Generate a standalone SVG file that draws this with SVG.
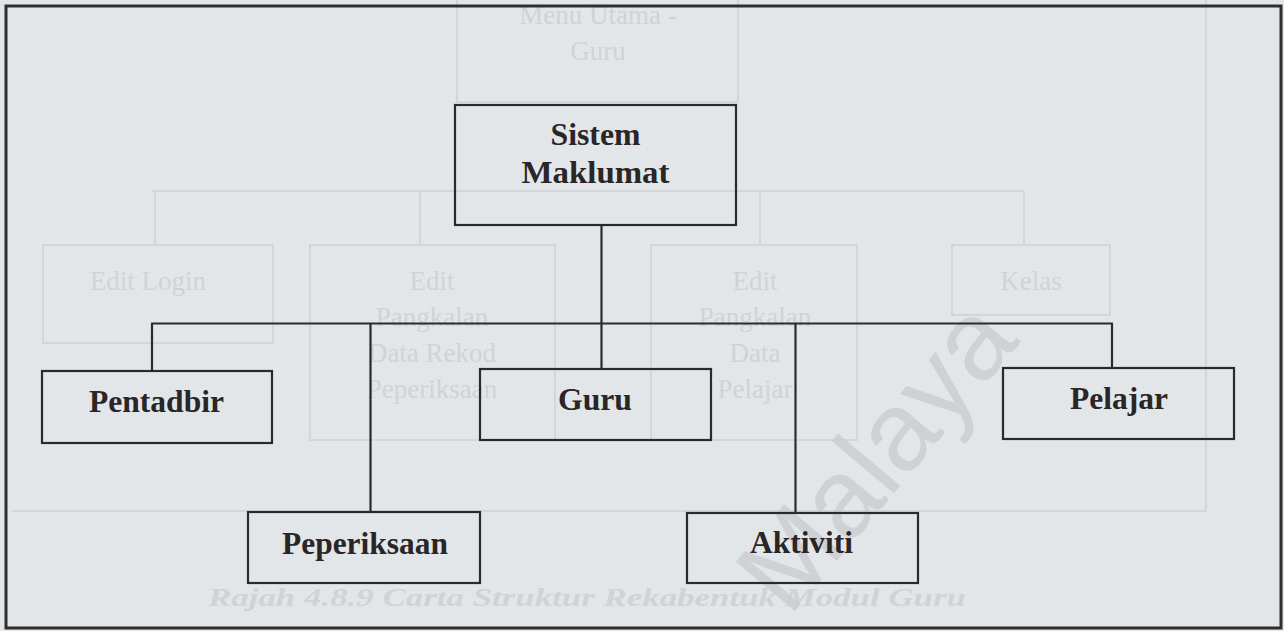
<svg xmlns="http://www.w3.org/2000/svg" width="1284" height="631" viewBox="0 0 1284 631">
  <style>
    .node rect { fill: none; stroke: #2a2a2c; stroke-width: 2.2; }
    .node text { font-family: "Liberation Serif", "Times New Roman", serif; font-weight: bold; font-size: 32px; fill: #2a2527; text-anchor: middle; }
    .links line { stroke: #2a2a2c; stroke-width: 2.2; }
    .ghost rect, .ghost line, .ghost polyline { fill: none; stroke: #d3d6d9; stroke-width: 2; }
    .ghost text { font-family: "Liberation Serif", "Times New Roman", serif; font-size: 27px; fill: #d0d3d6; text-anchor: middle; }
    .ghost .cap { font-style: italic; font-weight: bold; font-size: 25px; text-anchor: start; }
    .mark { font-family: "Liberation Sans", Arial, sans-serif; font-size: 112px; fill: #c9cccf; fill-opacity: 0.8; text-anchor: middle; }
  </style>

  <!-- page -->
  <rect x="0" y="0" width="1284" height="631" fill="#e3e6e8"/>

  <!-- faint show-through from the reverse side of the sheet -->
  <g id="show-through" class="ghost">
    <rect x="457" y="-4" width="281" height="106"/>
    <text x="598" y="24">Menu Utama -</text>
    <text x="598" y="60">Guru</text>
    <line x1="152" y1="191" x2="1024" y2="191"/>
    <line x1="155" y1="191" x2="155" y2="245"/>
    <line x1="420" y1="191" x2="420" y2="245"/>
    <line x1="760" y1="191" x2="760" y2="245"/>
    <line x1="1024" y1="191" x2="1024" y2="245"/>
    <rect x="43" y="245" width="230" height="98"/>
    <text x="148" y="290">Edit Login</text>
    <rect x="310" y="245" width="245" height="195"/>
    <text x="432" y="290">Edit</text>
    <text x="432" y="326">Pangkalan</text>
    <text x="432" y="362">Data Rekod</text>
    <text x="432" y="398">Peperiksaan</text>
    <rect x="651" y="245" width="206" height="195"/>
    <text x="755" y="290">Edit</text>
    <text x="755" y="326">Pangkalan</text>
    <text x="755" y="362">Data</text>
    <text x="755" y="398">Pelajar</text>
    <rect x="952" y="245" width="158" height="70"/>
    <text x="1031" y="290">Kelas</text>
    <polyline points="12,511 1206,511 1206,0"/>
    <text class="cap" x="208" y="606" textLength="758" lengthAdjust="spacingAndGlyphs">Rajah 4.8.9    Carta Struktur Rekabentuk Modul Guru</text>
  </g>

  <text class="mark" transform="translate(905,480) rotate(-50)">Malaya</text>

  <!-- frame -->
  <rect x="6" y="6" width="1275" height="622" fill="none" stroke="#2e2e30" stroke-width="3"/>

  <g id="connectors" class="links">
    <line x1="601.5" y1="225" x2="601.5" y2="369"/>
    <line x1="151" y1="323.5" x2="1113" y2="323.5"/>
    <line x1="152" y1="323.5" x2="152" y2="371"/>
    <line x1="1112" y1="323.5" x2="1112" y2="368"/>
    <line x1="370.5" y1="323.5" x2="370.5" y2="512"/>
    <line x1="795.5" y1="323.5" x2="795.5" y2="513"/>
  </g>

  <g id="sistem-maklumat" class="node">
    <rect x="455" y="105" width="281" height="120"/>
    <text x="595.5" y="145" font-size="29" textLength="90" lengthAdjust="spacingAndGlyphs">Sistem</text>
    <text x="595.5" y="183" font-size="29" textLength="148" lengthAdjust="spacingAndGlyphs">Maklumat</text>
  </g>

  <g id="pentadbir" class="node">
    <rect x="42" y="371" width="230" height="72"/>
    <text x="156.5" y="412" textLength="135" lengthAdjust="spacingAndGlyphs">Pentadbir</text>
  </g>

  <g id="guru" class="node">
    <rect x="480" y="369" width="231" height="71"/>
    <text x="595" y="410" textLength="74" lengthAdjust="spacingAndGlyphs">Guru</text>
  </g>

  <g id="pelajar" class="node">
    <rect x="1003" y="368" width="231" height="71"/>
    <text x="1119" y="409" textLength="98" lengthAdjust="spacingAndGlyphs">Pelajar</text>
  </g>

  <g id="peperiksaan" class="node">
    <rect x="248" y="512" width="232" height="71"/>
    <text x="365" y="554" textLength="166" lengthAdjust="spacingAndGlyphs">Peperiksaan</text>
  </g>

  <g id="aktiviti" class="node">
    <rect x="687" y="513" width="231" height="70"/>
    <text x="801.5" y="553" textLength="103" lengthAdjust="spacingAndGlyphs">Aktiviti</text>
  </g>
</svg>
